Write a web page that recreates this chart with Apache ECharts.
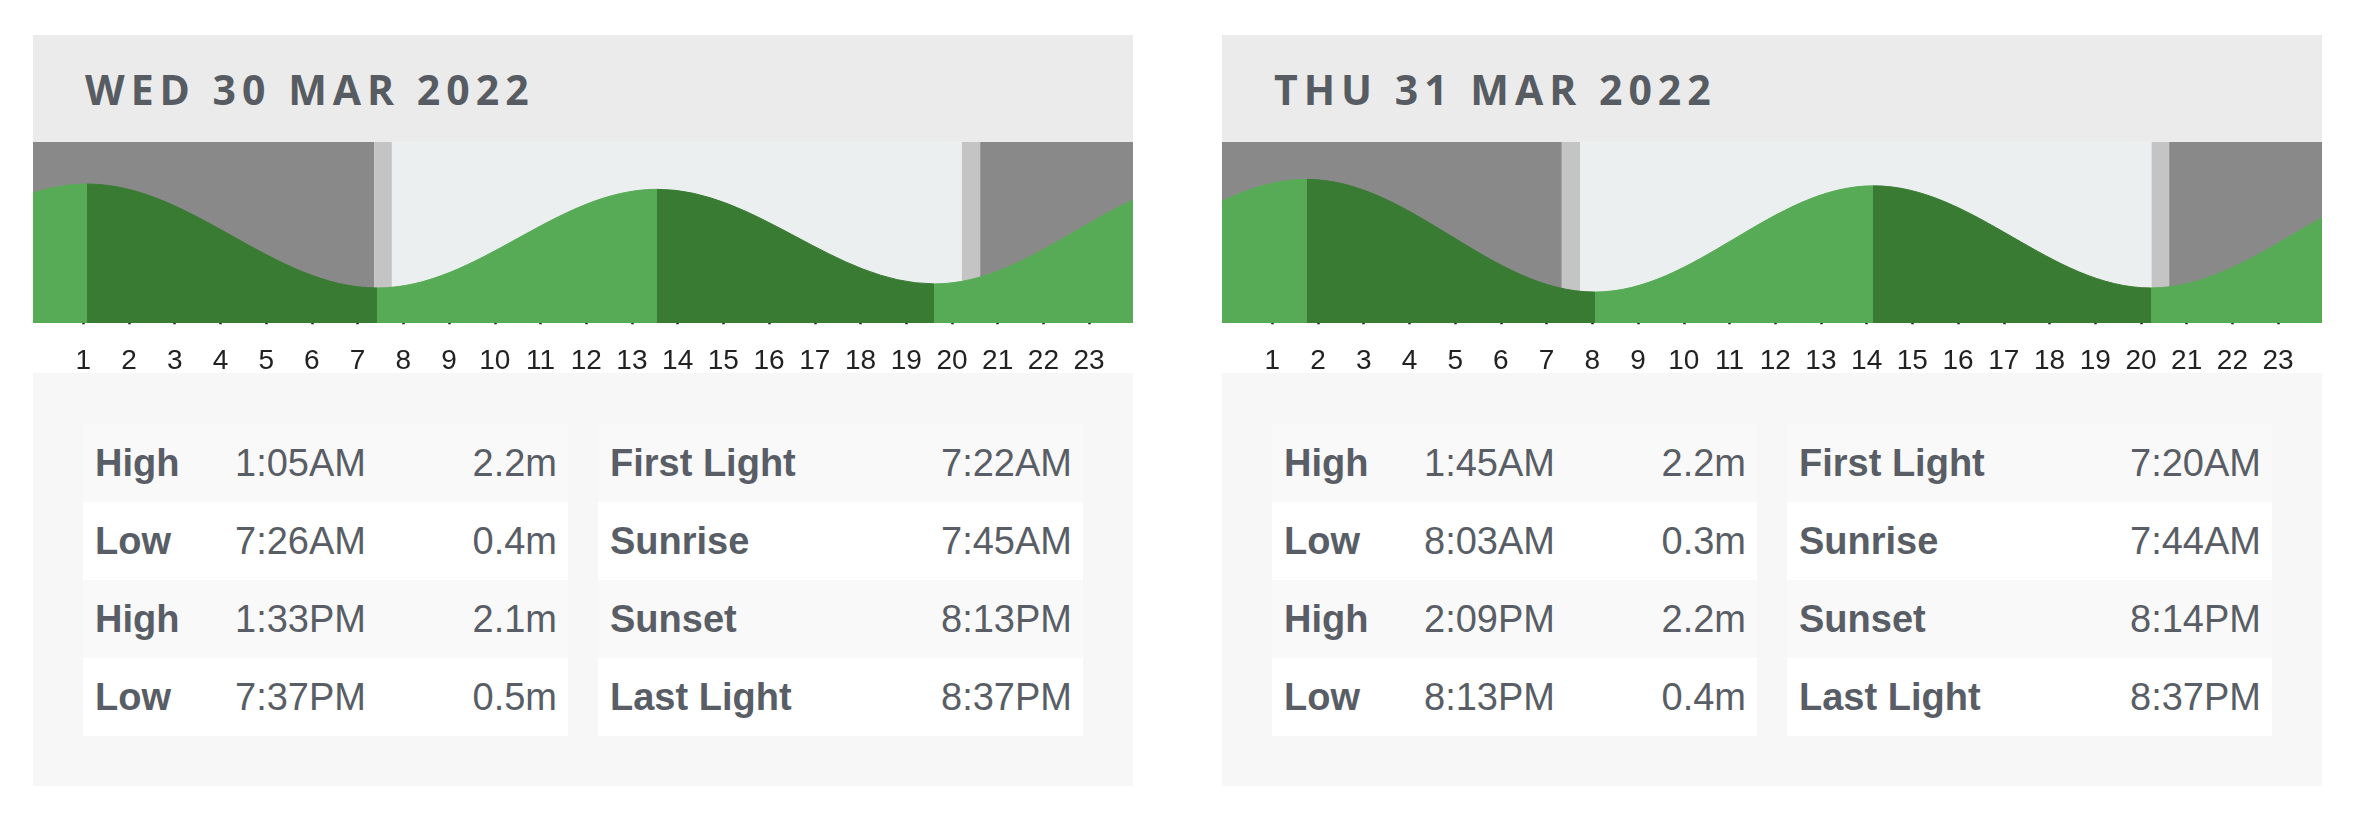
<!DOCTYPE html>
<html>
<head>
<meta charset="utf-8">
<script src="https://cdn.jsdelivr.net/npm/echarts@6/dist/echarts.min.js"></script>
<style>
  body { margin: 0; width: 2364px; height: 825px; background: #fff; position: relative; overflow: hidden; }
  .panel { position: absolute; top: 35px; width: 1100px; }
  .head { height: 107px; background: #ebebeb; display: flex; align-items: center; padding-left: 52px;
          font-family: 'Open Sans', 'DejaVu Sans', sans-serif; font-weight: 700; font-size: 41px;
          letter-spacing: 6px; color: #575c63; box-sizing: border-box; }
  .chart { height: 231px; width: 1100px; background: #fff; }
  .info { height: 413px; background: #f7f7f7; padding: 51px 0 0 50px; box-sizing: border-box; display: flex; gap: 30px; }
  .tbl { width: 485px; font-family: 'Liberation Sans', Arial, sans-serif; font-size: 38px; color: #595e66; }
  .row { height: 78px; display: flex; align-items: center; white-space: nowrap; }
  .row:nth-child(odd) { background: #f9f9f9; }
  .row:nth-child(even) { background: #fff; }
  .name { font-weight: 700; padding-left: 12px; }
  .tide .name { width: 140px; }
  .num { margin-left: auto; padding-right: 11px; }
</style>
</head>
<body>
<script>
const dayTitles = ['WED 30 MAR 2022', 'THU 31 MAR 2022'];
const panelLeft = [33, 1222];
const hourTicks = [1, 2, 3, 4, 5, 6, 7, 8, 9, 10, 11, 12, 13, 14, 15, 16, 17, 18, 19, 20, 21, 22, 23];

// tide turning points (hours from midnight, metres), with two either side of the day
const tideHours1 = [-11.2, -5.0, 1.083, 7.433, 13.55, 19.617, 25.75, 32.05];
const tideLevels1 = [2.1, 0.5, 2.16, 0.38, 2.07, 0.45, 2.24, 0.31];
const tideHours2 = [-10.45, -4.383, 1.75, 8.05, 14.15, 20.217, 26.4, 32.7];
const tideLevels2 = [2.07, 0.45, 2.24, 0.31, 2.13, 0.38, 2.2, 0.35];

// first light, sunrise, sunset, last light
const lightHours1 = [7.367, 7.75, 20.217, 20.617];
const lightHours2 = [7.333, 7.733, 20.233, 20.617];

const tideTypes = ['High', 'Low', 'High', 'Low'];
const tideTimes1 = ['1:05AM', '7:26AM', '1:33PM', '7:37PM'];
const tideHeights1 = ['2.2m', '0.4m', '2.1m', '0.5m'];
const tideTimes2 = ['1:45AM', '8:03AM', '2:09PM', '8:13PM'];
const tideHeights2 = ['2.2m', '0.3m', '2.2m', '0.4m'];

const lightNames = ['First Light', 'Sunrise', 'Sunset', 'Last Light'];
const lightTimes1 = ['7:22AM', '7:45AM', '8:13PM', '8:37PM'];
const lightTimes2 = ['7:20AM', '7:44AM', '8:14PM', '8:37PM'];

const xMin = -0.1, xMax = 23.96;
const yMin = -0.22, yMax = 2.88;
const bandColors = ['#898989', '#c4c4c4', '#eceff0'];
const risingColor = '#58ab56';
const fallingColor = '#3a7b34';

function makePanel(idx, title, hours, levels, lights, tTimes, tHeights, lTimes) {
  const panel = document.createElement('div');
  panel.className = 'panel';
  panel.style.left = panelLeft[idx] + 'px';

  const head = document.createElement('div');
  head.className = 'head';
  head.textContent = title;
  panel.appendChild(head);

  const chartDiv = document.createElement('div');
  chartDiv.className = 'chart';
  panel.appendChild(chartDiv);

  const info = document.createElement('div');
  info.className = 'info';
  let tideHtml = '<div class="tbl tide">';
  tideTypes.forEach((t, i) => {
    tideHtml += '<div class="row"><span class="name">' + t + '</span><span>' + tTimes[i] +
      '</span><span class="num">' + tHeights[i] + '</span></div>';
  });
  tideHtml += '</div>';
  let lightHtml = '<div class="tbl">';
  lightNames.forEach((n, i) => {
    lightHtml += '<div class="row"><span class="name">' + n + '</span><span class="num">' + lTimes[i] + '</span></div>';
  });
  lightHtml += '</div>';
  info.innerHTML = tideHtml + lightHtml;
  panel.appendChild(info);
  document.body.appendChild(panel);

  // falling tide dark, rising tide light
  const pieces = [];
  for (let i = 0; i < hours.length - 1; i++) {
    pieces.push({
      gt: hours[i], lte: hours[i + 1],
      color: levels[i + 1] < levels[i] ? fallingColor : risingColor
    });
  }

  const bands = [
    [-1, lights[0], 0],
    [lights[0], lights[1], 1],
    [lights[1], lights[2], 2],
    [lights[2], lights[3], 1],
    [lights[3], 25, 0]
  ];

  const chart = echarts.init(chartDiv);
  chart.setOption({
    animation: false,
    grid: { left: 0, right: 0, top: 0, height: 181, outerBoundsMode: 'none', containLabel: false },
    xAxis: {
      type: 'value', min: xMin, max: xMax,
      axisLine: { show: false },
      splitLine: { show: false },
      axisTick: {
        customValues: hourTicks, length: 14,
        lineStyle: { color: '#1e1e1e', width: 2.5 }
      },
      axisLabel: {
        customValues: hourTicks, margin: 24,
        fontFamily: "'Liberation Sans', Arial, sans-serif",
        fontSize: 28, color: '#222'
      }
    },
    yAxis: { type: 'value', min: yMin, max: yMax, show: false },
    visualMap: {
      show: false, type: 'piecewise', dimension: 0, seriesIndex: 1,
      pieces: pieces, outOfRange: { color: risingColor }
    },
    series: [
      {
        type: 'custom', z: 1, silent: true,
        data: bands,
        encode: { x: [0, 1] },
        renderItem: (params, api) => {
          const p0 = api.coord([api.value(0), yMax]);
          const p1 = api.coord([api.value(1), yMin]);
          const rect = echarts.graphic.clipRectByRect(
            { x: p0[0], y: p0[1], width: p1[0] - p0[0], height: p1[1] - p0[1] },
            { x: params.coordSys.x, y: params.coordSys.y, width: params.coordSys.width, height: params.coordSys.height }
          );
          return rect && { type: 'rect', shape: rect, style: { fill: bandColors[api.value(2)] } };
        }
      },
      {
        type: 'line', z: 2,
        data: hours.map((h, i) => [h, levels[i]]),
        smooth: 0.36, smoothMonotone: 'x',
        symbol: 'none',
        lineStyle: { width: 1 },
        areaStyle: { origin: 'start', opacity: 1 }
      }
    ]
  });
}

makePanel(0, dayTitles[0], tideHours1, tideLevels1, lightHours1, tideTimes1, tideHeights1, lightTimes1);
makePanel(1, dayTitles[1], tideHours2, tideLevels2, lightHours2, tideTimes2, tideHeights2, lightTimes2);
</script>
</body>
</html>
